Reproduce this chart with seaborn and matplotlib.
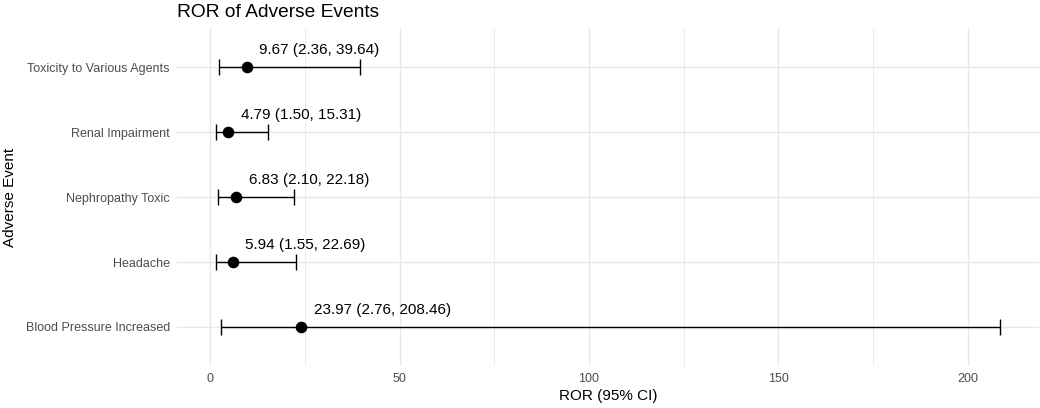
import matplotlib
matplotlib.use("Agg")
import matplotlib.pyplot as plt
import seaborn as sns
import pandas as pd

events = ["Blood Pressure Increased", "Headache", "Nephropathy Toxic",
          "Renal Impairment", "Toxicity to Various Agents"]
ror = [23.97, 5.94, 6.83, 4.79, 9.67]
lower = [2.76, 1.55, 2.10, 1.50, 2.36]
upper = [208.46, 22.69, 22.18, 15.31, 39.64]
xticks = [0, 50, 100, 150, 200]
minor_xticks = [25, 75, 125, 175]

df = pd.DataFrame({"event": events, "ror": ror, "lower": lower, "upper": upper})
df["label"] = [f"{r:.2f} ({l:.2f}, {u:.2f})" for r, l, u in zip(ror, lower, upper)]
df["pos"] = range(len(events))

sns.set_theme(style="white")
plt.rcParams["font.family"] = ["Liberation Sans", "DejaVu Sans"]

fig = plt.figure(figsize=(10.4, 4.08), dpi=100)
ax = fig.add_axes([0.170, 0.103, 0.829, 0.828])

grid_c = "#E8E8E8"
ax.set_xticks(xticks)
ax.set_xticks(minor_xticks, minor=True)
ax.set_yticks(df["pos"])
ax.set_yticklabels(events)
ax.grid(True, which="major", color=grid_c, linewidth=1.0)
ax.grid(True, which="minor", axis="x", color=grid_c, linewidth=0.6)
ax.set_axisbelow(True)

ax.errorbar(df["ror"], df["pos"], xerr=[df["ror"] - df["lower"], df["upper"] - df["ror"]],
            fmt="none", ecolor="black", elinewidth=1.0, capsize=6, capthick=1.0, zorder=2)
sns.scatterplot(data=df, x="ror", y="pos", color="black", s=70, edgecolor="black",
                linewidth=0, ax=ax, zorder=3, legend=False)

for _, row in df.iterrows():
    ax.annotate(row["label"], (row["ror"], row["pos"]), xytext=(9, 7),
                textcoords="offset points", ha="left", va="bottom", fontsize=11,
                color="black")

lo, hi = min(lower), max(upper)
pad = 0.05 * (hi - lo)
ax.set_xlim(lo - pad, hi + pad)
ax.set_ylim(-0.6, len(events) - 0.4)

for s in ax.spines.values():
    s.set_visible(False)
ax.tick_params(axis="both", which="both", length=0, labelsize=9, labelcolor="#4D4D4D")
ax.tick_params(axis="x", pad=5)
ax.tick_params(axis="y", pad=5)

ax.set_xlabel("ROR (95% CI)", fontsize=11, color="black", labelpad=3)
ax.set_ylabel("Adverse Event", fontsize=11, color="black", labelpad=6)
ax.set_title("ROR of Adverse Events", loc="left", fontsize=13.8, color="black", pad=8)

fig.savefig("out.png", dpi=100)
